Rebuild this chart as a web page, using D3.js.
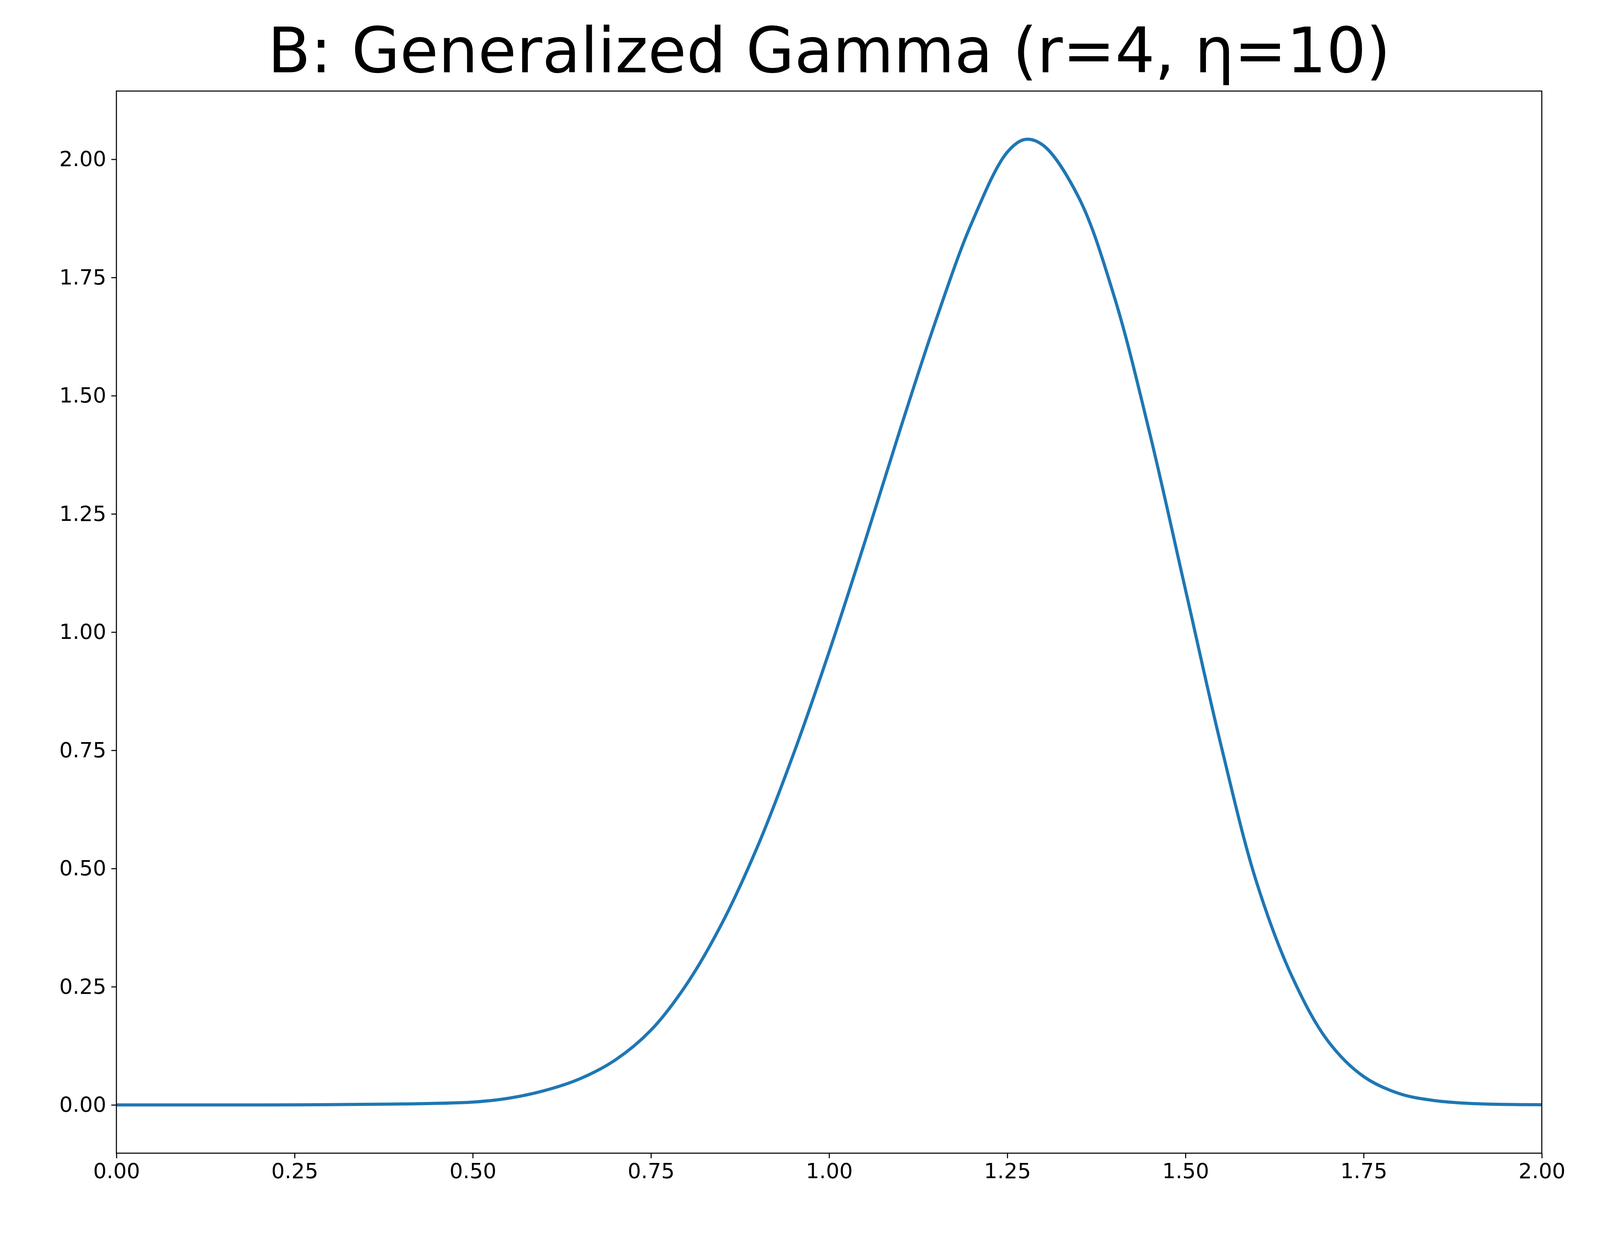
<!DOCTYPE html>
<html><head><meta charset="utf-8">
<script src="https://cdn.jsdelivr.net/npm/d3@7"></script>
<style>body{margin:0;background:#fff}text{font-family:"DejaVu Sans",sans-serif}</style>
</head><body><svg id="chart" width="4176" height="3209"></svg>
<script>
// values
var xs = [0, 0.1, 0.2, 0.3, 0.4, 0.5, 0.55, 0.6, 0.65, 0.7, 0.75, 0.8, 0.85, 0.9, 0.95, 1.0, 1.05, 1.1, 1.15, 1.2, 1.25, 1.275, 1.3, 1.35, 1.4, 1.45, 1.5, 1.55, 1.6, 1.65, 1.7, 1.75, 1.8, 1.85, 1.9, 1.95, 2.0];
var ys = [0, 0, 0, 0.0005, 0.002, 0.006, 0.014, 0.03, 0.055, 0.095, 0.158, 0.255, 0.385, 0.548, 0.742, 0.958, 1.19, 1.43, 1.66, 1.865, 2.015, 2.042, 2.03, 1.92, 1.71, 1.42, 1.09, 0.76, 0.47, 0.27, 0.135, 0.06, 0.024, 0.009, 0.003, 0.001, 0.0003];
var xTicks = [0, 0.25, 0.5, 0.75, 1.0, 1.25, 1.5, 1.75, 2.0];
var yTicks = [0, 0.25, 0.5, 0.75, 1.0, 1.25, 1.5, 1.75, 2.0];

var svg = d3.select("#chart");
var L = 298, R = 3947, T = 233, B = 2951;
var x = d3.scaleLinear().domain([0, 2]).range([L, R]);
var y = d3.scaleLinear().domain([-0.1021, 2.1443]).range([B, T]);

svg.append("text").attr("x", (L + R) / 2).attr("y", 185).attr("text-anchor", "middle")
  .attr("font-size", 160).text("B: Generalized Gamma (r=4, η=10)");

var pts = xs.map(function(d, i){ return [d, ys[i]]; });
svg.append("path").datum(pts)
  .attr("d", d3.line().x(function(d){return x(d[0]);}).y(function(d){return y(d[1]);}).curve(d3.curveCatmullRom.alpha(0.5)))
  .attr("fill", "none").attr("stroke", "#1f77b4").attr("stroke-width", 8);

var xa = svg.append("g").attr("transform", "translate(0," + B + ")")
  .call(d3.axisBottom(x).tickValues(xTicks).tickFormat(d3.format(".2f")).tickSizeOuter(0).tickSize(13).tickPadding(13));
var ya = svg.append("g").attr("transform", "translate(" + L + ",0)")
  .call(d3.axisLeft(y).tickValues(yTicks).tickFormat(d3.format(".2f")).tickSizeOuter(0).tickSize(13).tickPadding(13));
[xa, ya].forEach(function(a){
  a.select(".domain").remove();
  a.selectAll("line").attr("stroke", "#000").attr("stroke-width", 2.7);
  a.selectAll("text").attr("font-size", 54).attr("fill", "#000").attr("font-family", "DejaVu Sans");
});
svg.append("rect").attr("x", L).attr("y", T).attr("width", R - L).attr("height", B - T)
  .attr("fill", "none").attr("stroke", "#000").attr("stroke-width", 2.7);
</script></body></html>
